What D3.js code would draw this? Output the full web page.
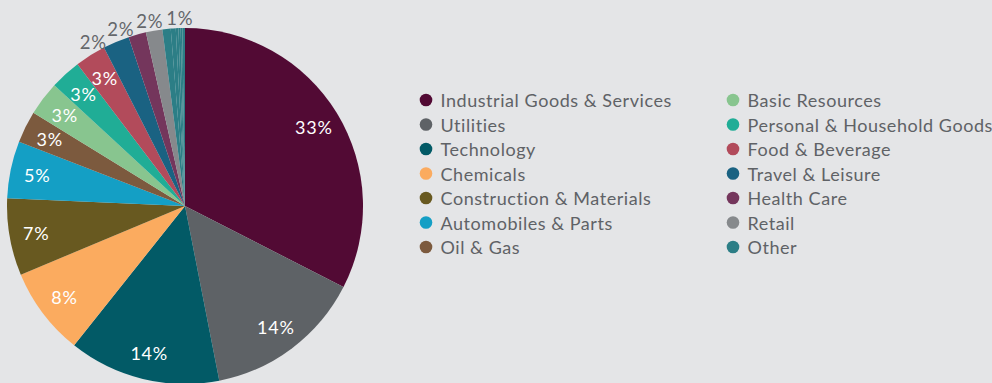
<!DOCTYPE html>
<html>
<head>
<meta charset="utf-8">
<script src="https://cdn.jsdelivr.net/npm/d3@7"></script>
<style>
  html, body { margin: 0; padding: 0; background: #e4e5e7; }
  svg { display: block; }
  text { font-family: Lato, "Open Sans", sans-serif; }
</style>
</head>
<body>
<svg id="chart" width="992" height="383"></svg>
<script>
// Sector weights (% of portfolio)
const sectors = [
  "Industrial Goods & Services", "Utilities", "Technology", "Chemicals",
  "Construction & Materials", "Automobiles & Parts", "Oil & Gas",
  "Basic Resources", "Personal & Household Goods", "Food & Beverage",
  "Travel & Leisure", "Health Care", "Retail", "Other"
];
const weights = [32.55, 14.4, 13.8, 8.0, 7.0, 5.2, 2.9, 3.1, 2.8, 2.8, 2.4, 1.6, 1.5];
// "Other" is made of several small holdings sharing one colour
const otherWeights = [0.75, 0.45, 0.24, 0.2, 0.15, 0.24];
const colors = [
  "#520a34", "#5e6266", "#025a66", "#fbab5f", "#685920", "#149fc5", "#7c5a3e",
  "#88c58f", "#20ad96", "#b24b5b", "#1a6282", "#74365c", "#86898c", "#2c7e86"
];

const svg = d3.select("#chart");
const cx = 185, cy = 206, R = 178;
const labelR = 151;      // radius for labels inside the slices
const outerR = R + 10;   // radius for labels of thin slices
const insideMin = 2.5;   // slices below this weight get an outside label

// Flatten into slices: named sectors, then each "Other" holding
const slices = sectors.slice(0, 13).map((s, i) => ({ sector: s, ci: i, value: weights[i] }))
  .concat(otherWeights.map(v => ({ sector: "Other", ci: 13, value: v })));

const pie = d3.pie().sort(null).value(d => d.value).startAngle(0).endAngle(2 * Math.PI);
const arcs = pie(slices);
const arc = d3.arc().innerRadius(0).outerRadius(R);

const g = svg.append("g").attr("transform", `translate(${cx},${cy})`);
g.selectAll("path.slice").data(arcs).join("path")
  .attr("class", "slice")
  .attr("d", arc)
  .attr("fill", d => colors[d.data.ci]);

const fmt = v => Math.round(v) + "%";
const mid = d => (d.startAngle + d.endAngle) / 2;

// Inside labels
const inner = arcs.filter(d => d.data.value >= insideMin);
g.selectAll("text.in").data(inner).join("text")
  .attr("class", "in")
  .attr("x", d => labelR * Math.sin(mid(d)))
  .attr("y", d => -labelR * Math.cos(mid(d)))
  .attr("text-anchor", "middle")
  .attr("dominant-baseline", "central")
  .attr("fill", "#ffffff")
  .attr("font-size", 18)
  .attr("letter-spacing", 0.8)
  .text(d => fmt(d.data.value));

// Outside labels: spread along the rim so they do not overlap,
// pushing slightly more counter-clockwise
const outer = arcs.filter(d => d.data.value < insideMin && Math.round(d.data.value) > 0)
  .map(d => ({ d, a: mid(d) }));
const gap = 9.2 * Math.PI / 180;
for (let it = 0; it < 300; it++) {
  for (let i = 1; i < outer.length; i++) {
    const diff = outer[i].a - outer[i - 1].a;
    if (diff < gap) {
      const need = gap - diff;
      outer[i].a += need * 0.4;
      outer[i - 1].a -= need * 0.6;
    }
  }
}
g.selectAll("text.out").data(outer).join("text")
  .attr("class", "out")
  .attr("x", o => outerR * Math.sin(o.a))
  .attr("y", o => -outerR * Math.cos(o.a))
  .attr("text-anchor", "middle")
  .attr("dominant-baseline", "central")
  .attr("fill", "#64676b")
  .attr("font-size", 18.5)
  .attr("letter-spacing", 0.8)
  .text(o => fmt(o.d.data.value));

// Legend in two columns of seven
const legend = svg.append("g");
const colX = [426, 733], rowY0 = 100, rowH = 24.5;
const items = legend.selectAll("g.item").data(sectors).join("g")
  .attr("class", "item")
  .attr("transform", (s, i) => `translate(${colX[Math.floor(i / 7)]},${rowY0 + (i % 7) * rowH})`);
items.append("circle").attr("r", 6.3).attr("fill", (s, i) => colors[i]);
items.append("text")
  .attr("x", 14.5)
  .attr("dominant-baseline", "central")
  .attr("fill", "#5f6266")
  .attr("font-size", 18)
  .attr("letter-spacing", 0.55)
  .text(s => s);
</script>
</body>
</html>
